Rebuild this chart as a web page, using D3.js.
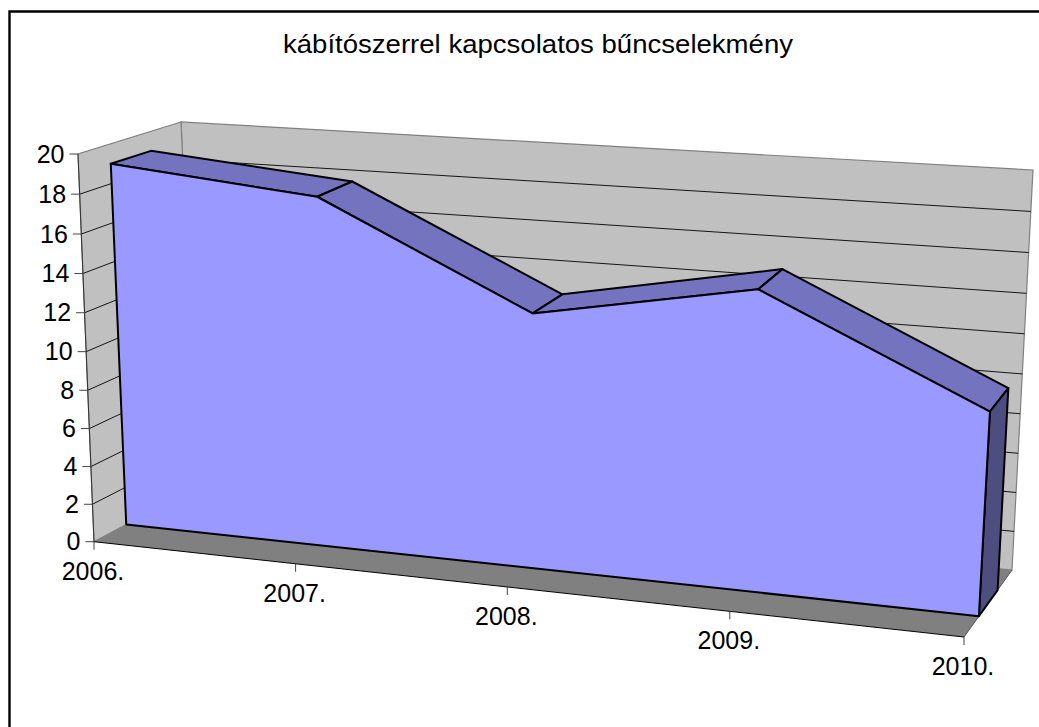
<!DOCTYPE html>
<html>
<head>
<meta charset="utf-8">
<script src="https://cdn.jsdelivr.net/npm/d3@7/dist/d3.min.js"></script>
<style>
html,body{margin:0;padding:0;background:#fff;}
svg{display:block;}
text{font-family:"Liberation Sans",Arial,sans-serif;fill:#000;}
</style>
</head>
<body>
<svg id="chart" width="1039" height="727"></svg>
<script>
const chartTitle = "kábítószerrel kapcsolatos bűncselekmény";
const categories = ["2006.", "2007.", "2008.", "2009.", "2010."];
const values = [19, 18.1, 13.1, 15.2, 10.2];
const valueTicks = [0, 2, 4, 6, 8, 10, 12, 14, 16, 18, 20];

const width = 1039, height = 727;
const svg = d3.select("#chart");

// Box corners of the 3-D scene as they land on the picture.
const corners = {
  floor: { fl: [94, 541.7], fr: [964, 637], bl: [198, 486], br: [1012, 570] },
  roof:  { fl: [78, 154],   fr: [986.6, 223.6], bl: [181, 122], br: [1033, 170] }
};
const depthFront = 0.31, depthBack = 0.70;
const perspective = 1.105, perspectiveY = 1.04;

const xScale = d3.scalePoint().domain(categories).range([0, 1]);
const yScale = d3.scaleLinear().domain([0, 20]).range([0, 1]);

const mix = (a, b, t) => [a[0] + (b[0] - a[0]) * t, a[1] + (b[1] - a[1]) * t];
const warp = (t, k) => t / (t + k * (1 - t));
function project(u, depth, value) {
  const t = warp(u, perspective), w = warp(yScale(value), perspectiveY);
  const level = k => mix(
    mix(corners[k].fl, corners[k].fr, t),
    mix(corners[k].bl, corners[k].br, t),
    depth
  );
  return mix(level("floor"), level("roof"), w);
}
const poly = d3.line().curve(d3.curveLinearClosed);
const seg = d3.line();

// chart frame (top and left edges only)
svg.append("path").attr("d", seg([[9.5, height], [9.5, 11.5], [width, 11.5]]))
  .attr("fill", "none").attr("stroke", "#000").attr("stroke-width", 2.4);

svg.append("text").attr("x", 538).attr("y", 53).attr("text-anchor", "middle")
  .attr("font-size", 25.5).attr("textLength", 510).attr("lengthAdjust", "spacingAndGlyphs")
  .text(chartTitle);

// walls and floor
const wallStroke = "#808080";
svg.append("path")
  .attr("d", poly([project(0, 1, 0), project(0, 1, 20), project(1, 1, 20), project(1, 1, 0)]))
  .attr("fill", "#c0c0c0").attr("stroke", wallStroke).attr("stroke-width", 1.2);
svg.append("path")
  .attr("d", poly([project(0, 0, 0), project(0, 0, 20), project(0, 1, 20), project(0, 1, 0)]))
  .attr("fill", "#c0c0c0").attr("stroke", wallStroke).attr("stroke-width", 1.2);
svg.append("path")
  .attr("d", poly([project(0, 0, 0), project(1, 0, 0), project(1, 1, 0), project(0, 1, 0)]))
  .attr("fill", "#808080");

// gridlines on walls
valueTicks.filter(v => v > 0 && v < 20).forEach(v => {
  svg.append("path")
    .attr("d", seg([project(0, 0, v), project(0, 1, v), project(1, 1, v)]))
    .attr("fill", "none").attr("stroke", "#000").attr("stroke-width", 0.9);
});
svg.append("path")
  .attr("d", seg([project(0, 0, 0), project(0, 0, 20)]))
  .attr("stroke", "#333").attr("stroke-width", 1).attr("fill", "none");
svg.append("path")
  .attr("d", seg([project(0, 0, 0), project(1, 0, 0)]))
  .attr("stroke", "#000").attr("stroke-width", 1).attr("fill", "none");
svg.append("path")
  .attr("d", seg([project(1, 0, 0), project(1, 1, 0)]))
  .attr("stroke", "#555").attr("stroke-width", 1).attr("fill", "none");

// area series: ribbon along the top, right end cap, front face
const ptF = (c, i) => project(xScale(c), depthFront, values[i]);
const ptB = (c, i) => project(xScale(c), depthBack, values[i]);
const edge = { stroke: "#000", "stroke-width": 2, "stroke-linejoin": "round" };
const applyEdge = sel => Object.entries(edge).forEach(([k, v]) => sel.attr(k, v));

categories.slice(0, -1).forEach((c, i) => {
  const n = categories[i + 1];
  svg.append("path")
    .attr("d", poly([ptF(c, i), ptF(n, i + 1), ptB(n, i + 1), ptB(c, i)]))
    .attr("fill", "#7373bf").call(applyEdge);
});
const last = categories.length - 1, lastCat = categories[last];
svg.append("path")
  .attr("d", poly([
    ptF(lastCat, last), ptB(lastCat, last),
    project(1, depthBack, 0), project(1, depthFront, 0)
  ]))
  .attr("fill", "#4d4d80").call(applyEdge);
svg.append("path")
  .attr("d", poly([
    project(0, depthFront, 0),
    ...categories.map(ptF),
    project(1, depthFront, 0)
  ]))
  .attr("fill", "#9999ff").call(applyEdge);

// value axis ticks and labels
valueTicks.forEach(v => {
  const p = project(0, 0, v);
  svg.append("path").attr("d", seg([[p[0] - 8.5, p[1]], p]))
    .attr("stroke", "#444").attr("stroke-width", 1).attr("fill", "none");
  svg.append("text").attr("x", p[0] - 13.5).attr("y", p[1] + 8.5)
    .attr("text-anchor", "end").attr("font-size", 25).text(v);
});

// category ticks and labels
categories.forEach(c => {
  const p = project(xScale(c), 0, 0);
  svg.append("path").attr("d", seg([p, [p[0], p[1] + 8]]))
    .attr("stroke", "#444").attr("stroke-width", 1).attr("fill", "none");
  svg.append("text").attr("x", p[0] - 1).attr("y", p[1] + 38)
    .attr("text-anchor", "middle").attr("font-size", 25).text(c);
});
</script>
</body>
</html>
